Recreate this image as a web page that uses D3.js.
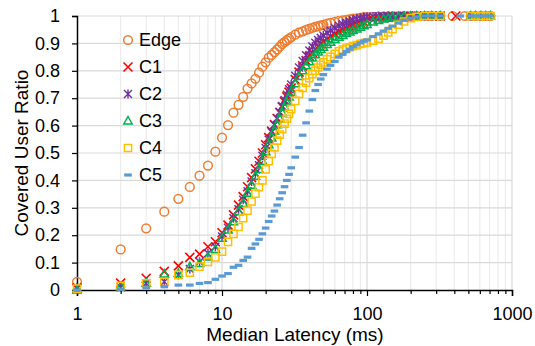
<!DOCTYPE html>
<html>
<head>
<meta charset="utf-8">
<script src="https://cdn.jsdelivr.net/npm/d3@7"></script>
<style>
  body { margin: 0; background: #fff; }
  svg { display: block; font-family: "Liberation Sans", Arial, sans-serif; }
</style>
</head>
<body>
<div id="chart"></div>
<script>
// latency grid (ms) shared by the main part of every CDF
const latency = [
  1, 2, 3, 4, 5, 6, 7, 8, 9, 10,
  11, 12, 13, 14, 15, 16, 17, 18, 19, 20,
  21, 22, 23, 24, 25, 26, 27, 28, 29, 30,
  32, 34, 36, 38, 40, 42, 44, 46, 48, 50,
  53, 56, 60, 64, 68, 72, 76, 80, 85, 90,
  95, 100, 110, 120, 130, 140, 150, 165, 180, 200,
  220, 250, 280, 320
];

const edge = [
  0.03, 0.148, 0.225, 0.286, 0.333, 0.376, 0.417, 0.454, 0.505, 0.556,
  0.602, 0.647, 0.676, 0.705, 0.735, 0.754, 0.771, 0.793, 0.815, 0.831,
  0.848, 0.858, 0.868, 0.878, 0.888, 0.898, 0.905, 0.911, 0.917, 0.923,
  0.932, 0.939, 0.944, 0.949, 0.953, 0.957, 0.96, 0.963, 0.966, 0.968,
  0.972, 0.975, 0.979, 0.982, 0.984, 0.986, 0.988, 0.99, 0.991, 0.993,
  0.995, 0.996, 0.997, 0.998, 0.998, 0.999, 0.999, 0.999, 1, 1,
  1, 1, 1, 1
];
const c1 = [
  0.005, 0.025, 0.043, 0.068, 0.088, 0.119, 0.131, 0.158, 0.176, 0.209,
  0.237, 0.274, 0.31, 0.341, 0.377, 0.41, 0.442, 0.47, 0.5, 0.53,
  0.556, 0.58, 0.604, 0.626, 0.648, 0.668, 0.687, 0.705, 0.722, 0.737,
  0.768, 0.795, 0.818, 0.837, 0.853, 0.867, 0.879, 0.889, 0.898, 0.906,
  0.916, 0.925, 0.935, 0.943, 0.95, 0.956, 0.961, 0.966, 0.971, 0.975,
  0.979, 0.982, 0.987, 0.99, 0.993, 0.995, 0.996, 0.998, 0.999, 0.999,
  1, 1, 1, 1
];
const c2 = [
  0.01, 0.01, 0.025, 0.03, 0.055, 0.077, 0.103, 0.134, 0.158, 0.195,
  0.227, 0.262, 0.295, 0.329, 0.36, 0.396, 0.426, 0.455, 0.49, 0.518,
  0.548, 0.576, 0.602, 0.627, 0.65, 0.672, 0.693, 0.713, 0.733, 0.75,
  0.782, 0.812, 0.836, 0.857, 0.874, 0.889, 0.902, 0.912, 0.921, 0.929,
  0.939, 0.947, 0.956, 0.964, 0.97, 0.975, 0.98, 0.985, 0.989, 0.992,
  0.995, 0.997, 0.998, 0.999, 0.999, 1, 1, 1, 1, 1,
  1, 1, 1, 1
];
const c3 = [
  0, 0.012, 0.025, 0.058, 0.06, 0.085, 0.097, 0.12, 0.148, 0.189,
  0.219, 0.249, 0.286, 0.316, 0.353, 0.382, 0.415, 0.44, 0.47, 0.505,
  0.53, 0.555, 0.58, 0.603, 0.625, 0.647, 0.667, 0.686, 0.704, 0.722,
  0.753, 0.779, 0.8, 0.818, 0.833, 0.847, 0.859, 0.869, 0.878, 0.886,
  0.896, 0.904, 0.914, 0.922, 0.929, 0.936, 0.942, 0.947, 0.953, 0.959,
  0.964, 0.969, 0.978, 0.984, 0.989, 0.992, 0.995, 0.997, 0.998, 0.999,
  1, 1, 1, 1
];
const c4 = [
  0.005, 0.015, 0.024, 0.03, 0.055, 0.063, 0.085, 0.103, 0.119, 0.14,
  0.176, 0.205, 0.23, 0.262, 0.29, 0.323, 0.352, 0.375, 0.4, 0.44,
  0.47, 0.497, 0.52, 0.545, 0.567, 0.587, 0.607, 0.625, 0.643, 0.66,
  0.69, 0.716, 0.738, 0.757, 0.773, 0.788, 0.801, 0.812, 0.822, 0.831,
  0.842, 0.851, 0.862, 0.871, 0.877, 0.881, 0.886, 0.89, 0.894, 0.898,
  0.901, 0.904, 0.91, 0.917, 0.928, 0.94, 0.952, 0.968, 0.98, 0.992,
  0.997, 1, 1, 1
];
const c5 = [
  0, 0.003, 0.008, 0.012, 0.018, 0.018, 0.024, 0.027, 0.039, 0.051,
  0.06, 0.083, 0.09, 0.108, 0.12, 0.152, 0.168, 0.185, 0.205, 0.226,
  0.25, 0.27, 0.288, 0.31, 0.333, 0.355, 0.377, 0.4, 0.422, 0.446,
  0.485, 0.52, 0.565, 0.61, 0.653, 0.695, 0.728, 0.75, 0.77, 0.786,
  0.806, 0.82, 0.834, 0.85, 0.86, 0.87, 0.879, 0.888, 0.895, 0.902,
  0.908, 0.913, 0.925, 0.935, 0.945, 0.955, 0.963, 0.974, 0.984, 0.992,
  0.997, 1, 1, 1
];

// the few slow users out on the right, all at ratio 1
const edgeTail = [390, 472, 520, 560, 610, 660, 710];
const c1Tail = [410];
const c2Tail = [520, 600, 690];
const c3Tail = [520, 560, 610, 660, 710];
const c4Tail = [520, 560, 610, 660, 710];
const c5Tail = [440, 520, 560, 610, 660, 710];

const seriesNames = ['Edge', 'C1', 'C2', 'C3', 'C4', 'C5'];
const xTicks = [1, 10, 100, 1000];
const yTicks = [0, 0.1, 0.2, 0.3, 0.4, 0.5, 0.6, 0.7, 0.8, 0.9, 1];

const width = 535, height = 346;
const x = d3.scaleLog().domain([1, 1000]).range([77, 512]);
const y = d3.scaleLinear().domain([0, 1]).range([290, 16]);

const svg = d3.select('#chart').append('svg')
  .attr('width', width)
  .attr('height', height);

// minor values 2..9 for each decade
const minor = [];
[1, 10, 100].forEach(d => { for (let k = 2; k <= 9; k++) minor.push(d * k); });

// gridlines
const grid = svg.append('g');
grid.selectAll('line.minor').data(minor).enter().append('line')
  .attr('x1', d => x(d)).attr('x2', d => x(d))
  .attr('y1', y(0)).attr('y2', y(1))
  .attr('stroke', '#ececec').attr('stroke-width', 1.2);
grid.selectAll('line.major').data(xTicks.slice(1)).enter().append('line')
  .attr('x1', d => x(d)).attr('x2', d => x(d))
  .attr('y1', y(0)).attr('y2', y(1))
  .attr('stroke', '#d9d9d9').attr('stroke-width', 1.2);
grid.selectAll('line.h').data(yTicks.slice(1)).enter().append('line')
  .attr('x1', x(1)).attr('x2', x(1000))
  .attr('y1', d => y(d)).attr('y2', d => y(d))
  .attr('stroke', '#d9d9d9').attr('stroke-width', 1.2);

// axes
svg.append('g')
  .attr('transform', `translate(0,${y(0)})`)
  .call(d3.axisBottom(x).tickValues(xTicks).tickFormat(d3.format('d')).tickSize(6).tickPadding(11));
svg.append('g')
  .attr('transform', `translate(0,${y(0)})`)
  .call(d3.axisBottom(x).tickValues(minor).tickFormat('').tickSize(4))
  .call(g => g.select('.domain').remove());
svg.append('g')
  .attr('transform', `translate(${x(1)},0)`)
  .call(d3.axisLeft(y).tickValues(yTicks)
    .tickFormat(d => d === 0 ? '0' : d === 1 ? '1' : d3.format('.1f')(d))
    .tickSize(5).tickPadding(12));

svg.selectAll('.domain').attr('stroke', '#000').attr('stroke-width', 1.5);
svg.selectAll('.tick line').attr('stroke', '#000').attr('stroke-width', 1.2);
svg.selectAll('.tick text')
  .attr('font-family', '"Liberation Sans", Arial, sans-serif')
  .attr('font-size', 18).attr('fill', '#000');

// axis titles
svg.append('text')
  .attr('x', 295).attr('y', 341)
  .attr('text-anchor', 'middle')
  .attr('font-size', 19)
  .text('Median Latency (ms)');
svg.append('text')
  .attr('transform', 'translate(28,153) rotate(-90)')
  .attr('text-anchor', 'middle')
  .attr('font-size', 19)
  .text('Covered User Ratio');

// marker shapes (paths centred on 0,0)
const markers = {
  Edge: { d: d3.symbol(d3.symbolCircle, 60)(), fill: 'none', stroke: '#ED7D31', sw: 1.5 },
  C1: { d: 'M-4.5,-4.5L4.5,4.5M-4.5,4.5L4.5,-4.5', fill: 'none', stroke: '#FF0000', sw: 1.6 },
  C2: { d: 'M-4,-4L4,4M-4,4L4,-4M0,-4.5L0,4.5', fill: 'none', stroke: '#7030A0', sw: 1.4 },
  C3: { d: 'M0,-4.5L4.2,3L-4.2,3Z', fill: 'none', stroke: '#00B050', sw: 1.5 },
  C4: { d: 'M-3.6,-3.6H3.6V3.6H-3.6Z', fill: 'none', stroke: '#FFC000', sw: 1.5 },
  C5: { d: 'M-3.8,-1.6H3.8V1.6H-3.8Z', fill: '#5B9BD5', stroke: 'none', sw: 0 }
};

function points(xs, ys) { return xs.map((v, i) => ({ x: v, y: ys[i] })); }
function tail(xs) { return xs.map(v => ({ x: v, y: 1 })); }

const data = {
  Edge: points(latency, edge).concat(tail(edgeTail)),
  C1: points(latency, c1).concat(tail(c1Tail)),
  C2: points(latency, c2).concat(tail(c2Tail)),
  C3: points(latency, c3).concat(tail(c3Tail)),
  C4: points(latency, c4).concat(tail(c4Tail)),
  C5: points(latency, c5).concat(tail(c5Tail))
};

// series drawn in order, later ones on top
seriesNames.forEach(name => {
  const m = markers[name];
  svg.append('g').selectAll('path').data(data[name]).enter().append('path')
    .attr('d', m.d)
    .attr('transform', d => `translate(${x(d.x)},${y(d.y)})`)
    .attr('fill', m.fill)
    .attr('stroke', m.stroke)
    .attr('stroke-width', m.sw);
});

// legend
const legend = svg.append('g');
seriesNames.forEach((name, i) => {
  const m = markers[name];
  const cy = 40 + i * 27;
  legend.append('path')
    .attr('d', m.d)
    .attr('transform', `translate(128,${cy})`)
    .attr('fill', m.fill)
    .attr('stroke', m.stroke)
    .attr('stroke-width', m.sw);
  legend.append('text')
    .attr('x', 139).attr('y', cy)
    .attr('dy', '0.35em')
    .attr('font-size', 18)
    .text(name);
});
</script>
</body>
</html>
